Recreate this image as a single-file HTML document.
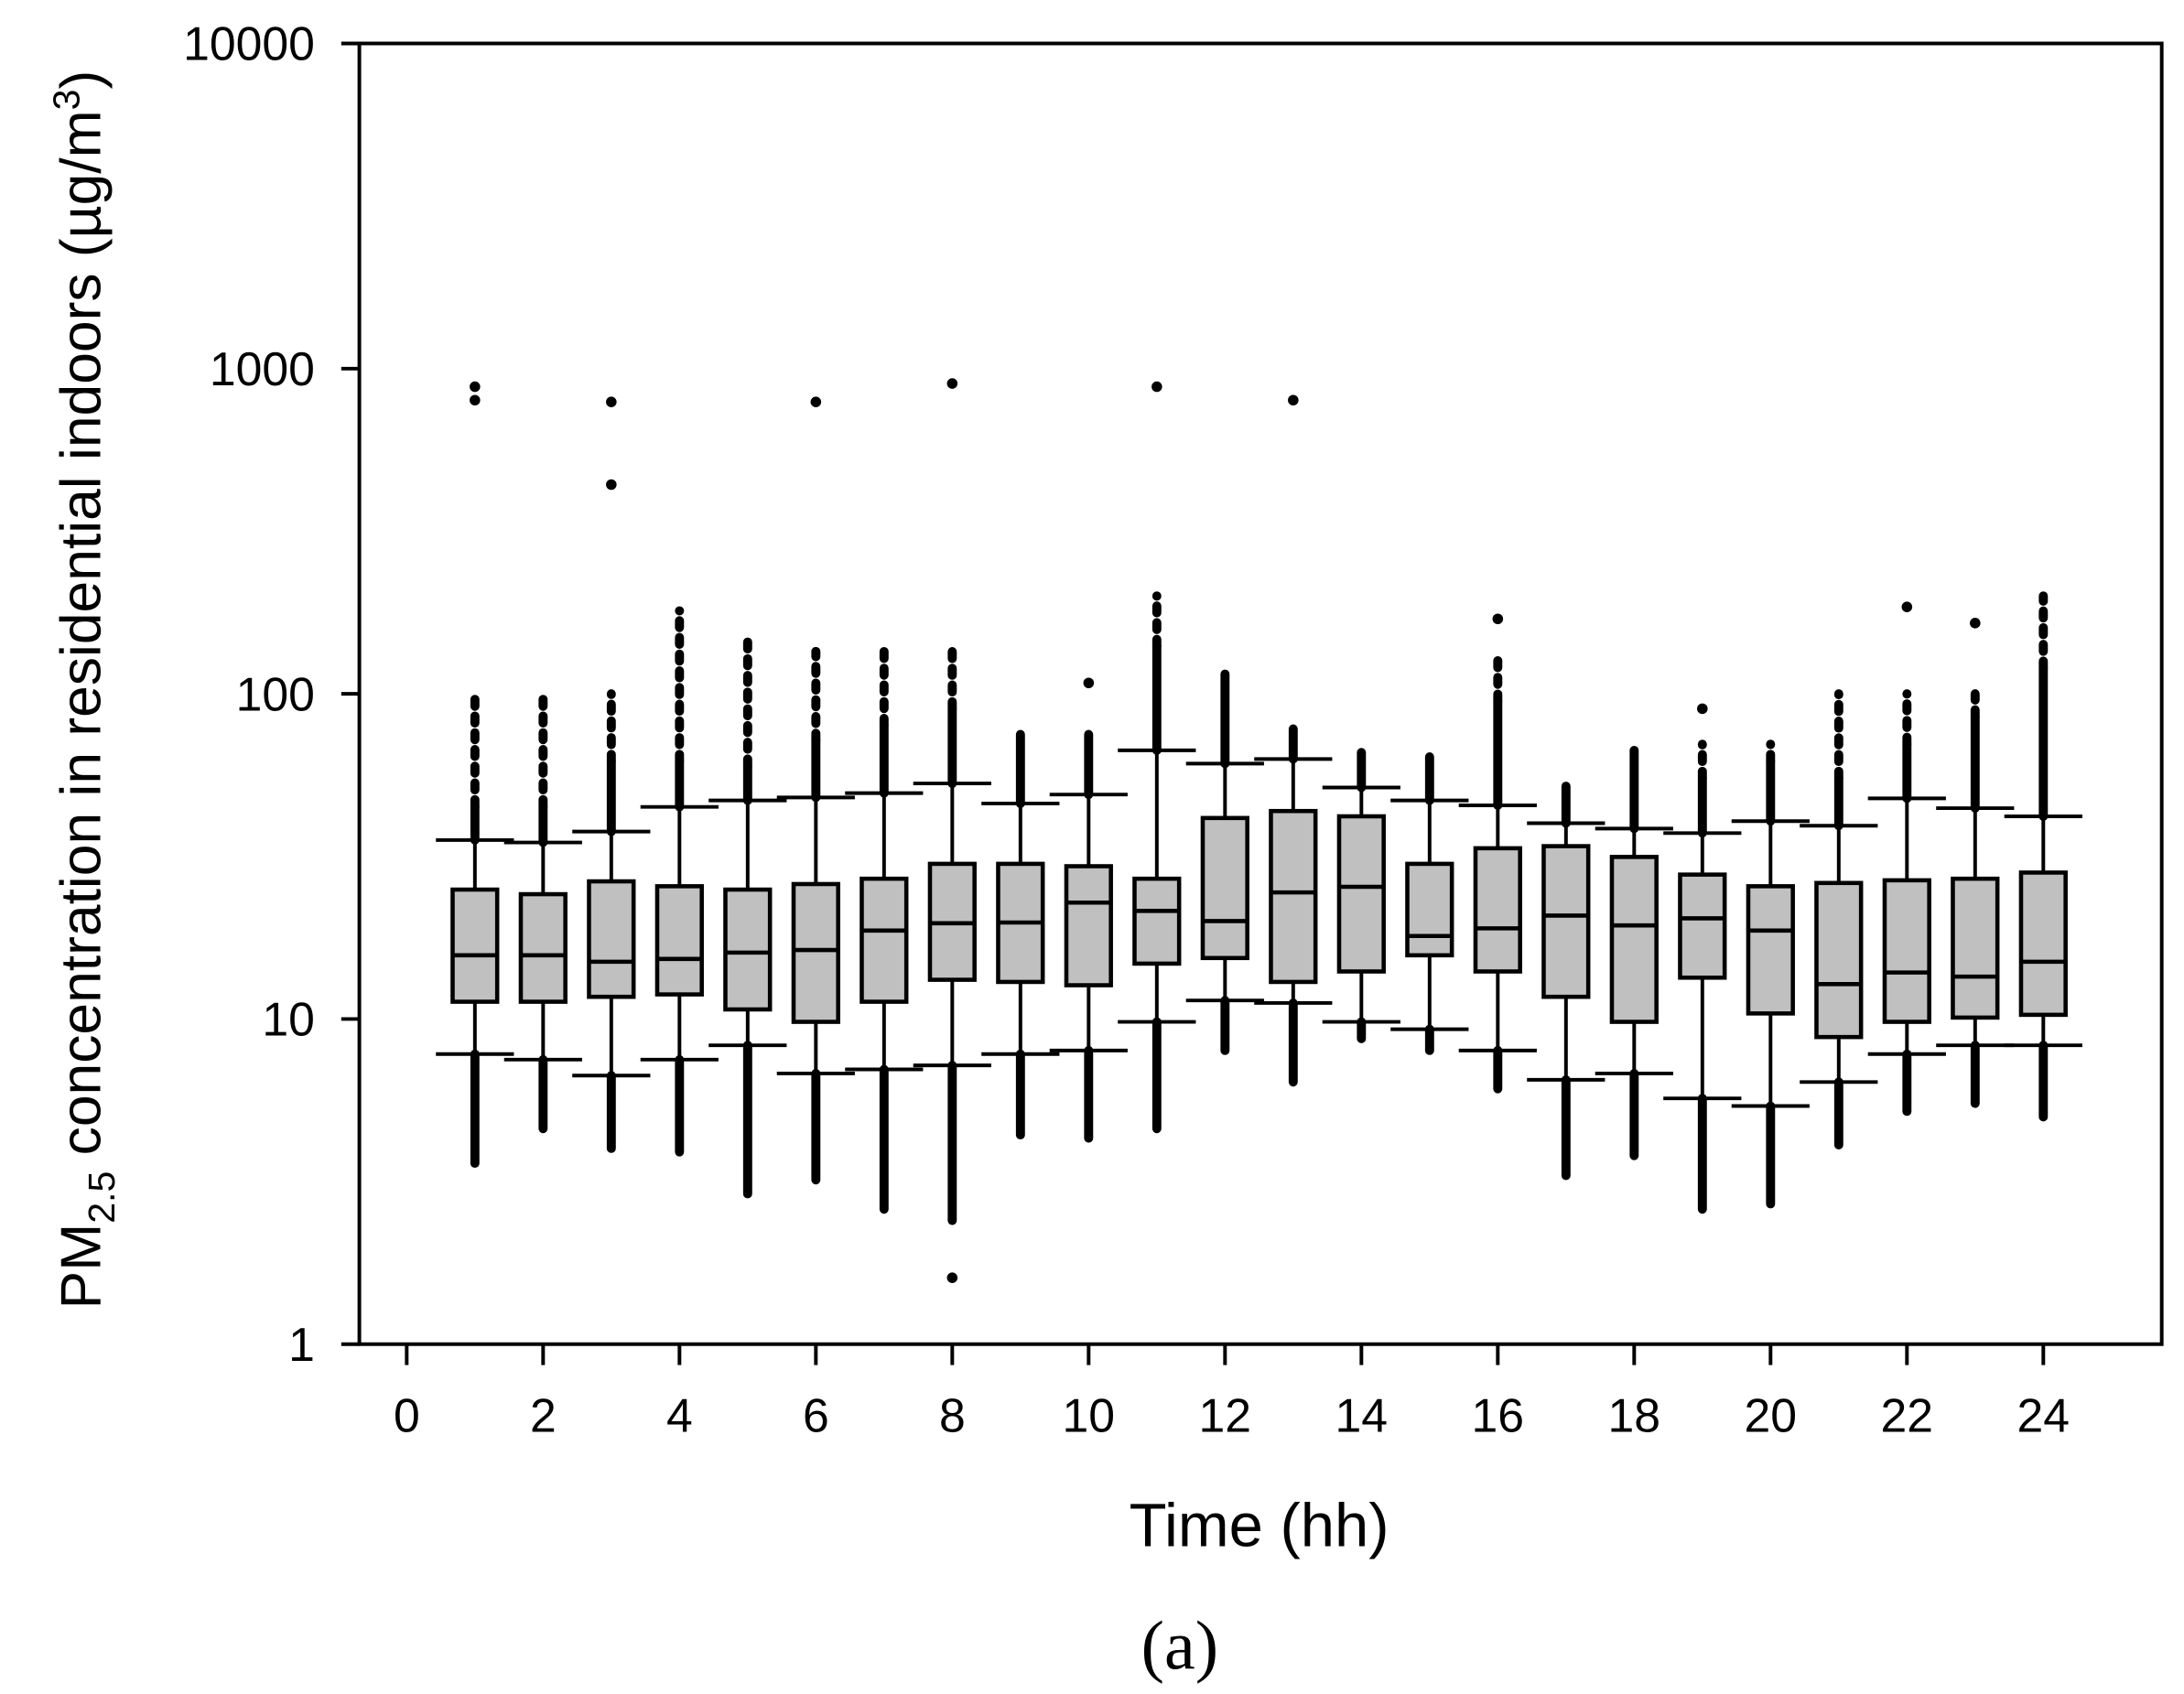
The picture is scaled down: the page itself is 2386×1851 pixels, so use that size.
<!DOCTYPE html>
<html><head><meta charset="utf-8"><style>
html,body{margin:0;padding:0;background:#fff;}
svg{display:block;}
text{font-family:"Liberation Sans",Arial,sans-serif;fill:#000;}
</style></head><body>
<svg id="chart" width="2386" height="1851" viewBox="0 0 1568 1216" xmlns="http://www.w3.org/2000/svg">
<g id="marks"></g>
<rect x="258" y="31" width="1294" height="934" fill="none" stroke="#000" stroke-width="2.6"/>
<g id="axes"></g>
<text x="904" y="1110" font-size="44" text-anchor="middle">Time (hh)</text>
<text transform="translate(72,495) rotate(-90)" font-size="41" text-anchor="middle">PM<tspan font-size="27" dy="10">2.5</tspan><tspan dy="-10"> concentration in residential indoors (µg/m</tspan><tspan font-size="27" dy="-15">3</tspan><tspan dy="15">)</tspan></text>
<text x="847" y="1198" font-size="50" text-anchor="middle" style="font-family:'Liberation Serif',serif">(a)</text>
</svg>
<script>
const hours=[1,2,3,4,5,6,7,8,9,10,11,12,13,14,15,16,17,18,19,20,21,22,23,24];
const whiskerHigh=[35.5,34.9,37.7,44.9,47,48,49.5,53,46,49,67,61,63,51.5,47,45.4,40,38.5,37.3,40.6,39.3,47.7,44.5,42];
const q3=[25,24.2,26.5,25.6,25,26,27,30,30,29.5,27,41.5,43.6,42,30,33.5,34,31.5,27.8,25.6,26.2,26.7,27,28.2];
const median=[15.7,15.7,15,15.3,16,16.3,18.7,19.7,19.8,22.8,21.5,20,24.5,25.5,18,19,20.8,19.4,20.4,18.7,12.8,13.9,13.5,15];
const q1=[11.3,11.3,11.7,11.9,10.7,9.8,11.3,13.2,13,12.7,14.8,15.4,13,14,15.7,14,11.7,9.8,13.4,10.4,8.8,9.8,10.1,10.3];
const whiskerLow=[7.8,7.5,6.7,7.5,8.3,6.8,7,7.2,7.8,8,9.8,11.4,11.2,9.8,9.3,8,6.5,6.8,5.7,5.4,6.4,7.8,8.3,8.3];
const outlierDenseHigh=[45,45,62,62,60,72,80,90,75,75,140,115,78,66,64,95,52,67,55,62,55,70,85,120];
const outlierMax=[100,98,100,180,150,135,140,140,75,75,200,115,78,66,64,130,52,67,70,70,100,100,100,200];
const outlierMin=[3.6,4.6,4,3.9,2.9,3.2,2.6,2.4,4.4,4.3,4.6,8,6.4,8.7,8,6.1,3.3,3.8,2.6,2.7,4.1,5.2,5.5,5];
const extremeHours=[1,1,3,3,6,8,8,10,13,11,16,19,22,23];
const extremeValues=[880,800,790,440,790,900,1.6,108,800,880,170,90,185,165];
const yTicks=[1,10,100,1000,10000];
const yTickLabels=["1","10","100","1000","10000"];
const xTicks=[0,2,4,6,8,10,12,14,16,18,20,22,24];

const NS="http://www.w3.org/2000/svg";
function xS(h){return 292+(h-0)*(1467-292)/24;}
function yS(v){return 965-Math.log10(v)*233.5;}
function mk(tag,attrs,parent){const e=document.createElementNS(NS,tag);for(const k in attrs)e.setAttribute(k,attrs[k]);parent.appendChild(e);return e;}
const marks=document.getElementById('marks'),axes=document.getElementById('axes');
hours.forEach((h,i)=>{
  const x=xS(h);
  const g=mk('g',{},marks);
  
  
  const lineA={stroke:'#000','stroke-width':6.5,'stroke-linecap':'round'};
  const o1=mk('line',Object.assign({x1:x,x2:x,y1:yS(whiskerHigh[i]),y2:yS(outlierDenseHigh[i])},lineA),g);
  
  
  if(outlierMax[i]>outlierDenseHigh[i]){
    const o3=mk('line',Object.assign({x1:x,x2:x,y1:yS(outlierDenseHigh[i]),y2:yS(outlierMax[i]),'stroke-dasharray':'5 7'},lineA),g);
    
    
  }
  const o2=mk('line',Object.assign({x1:x,x2:x,y1:yS(whiskerLow[i]),y2:yS(outlierMin[i])},lineA),g);
  
  
  const w=mk('line',{x1:x,x2:x,y1:yS(whiskerHigh[i]),y2:yS(whiskerLow[i]),stroke:'#000','stroke-width':2.6},g);
  
  
  [whiskerHigh[i],whiskerLow[i]].forEach(v=>{
    const c=mk('line',{x1:x-28,x2:x+28,y1:yS(v),y2:yS(v),stroke:'#000','stroke-width':2.6},g);
    
    
  });
  const b=mk('rect',{x:x-16,y:yS(q3[i]),width:32,height:yS(q1[i])-yS(q3[i]),fill:'#c0c0c0',stroke:'#000','stroke-width':3},g);
  
  
  const m=mk('line',{x1:x-16,x2:x+16,y1:yS(median[i]),y2:yS(median[i]),stroke:'#000','stroke-width':3},g);
  
  
});
extremeHours.forEach((h,i)=>{
  const d=mk('circle',{cx:xS(h),cy:yS(extremeValues[i]),r:3.8,fill:'#000'},marks);
  
  
});
yTicks.forEach((v,i)=>{
  const t=mk('line',{x1:245,x2:258,y1:yS(v),y2:yS(v),stroke:'#000','stroke-width':2.6},axes);
  
  
  const l=mk('text',{x:226,y:yS(v)+12,'font-size':34,'text-anchor':'end'},axes);
  l.textContent=yTickLabels[i];
  
  
});
xTicks.forEach(h=>{
  const t=mk('line',{x1:xS(h),x2:xS(h),y1:965,y2:980,stroke:'#000','stroke-width':2.6},axes);
  
  
  const l=mk('text',{x:xS(h),y:1028,'font-size':34,'text-anchor':'middle'},axes);
  l.textContent=String(h);
  
  
});
</script>
</body></html>
